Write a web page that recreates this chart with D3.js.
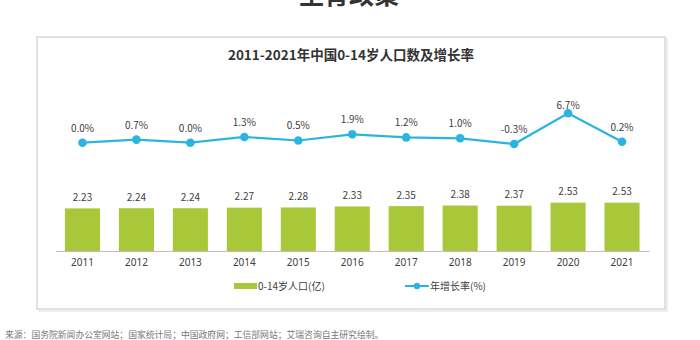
<!DOCTYPE html>
<html><head><meta charset="utf-8">
<script src="https://cdn.jsdelivr.net/npm/d3@7"></script>
<style>
html,body{margin:0;padding:0;background:#fff;}
svg{display:block;font-family:"Noto Sans CJK SC","Noto Sans",sans-serif;}
</style></head>
<body>
<svg id="c" width="700" height="340"></svg>
<script>
const years = ["2011","2012","2013","2014","2015","2016","2017","2018","2019","2020","2021"];
const population = [2.23,2.24,2.24,2.27,2.28,2.33,2.35,2.38,2.37,2.53,2.53];
const growth = [0.0,0.7,0.0,1.3,0.5,1.9,1.2,1.0,-0.3,6.7,0.2];
const growthLabels = ["0.0%","0.7%","0.0%","1.3%","0.5%","1.9%","1.2%","1.0%","-0.3%","6.7%","0.2%"];
const popLabels = ["2.23","2.24","2.24","2.27","2.28","2.33","2.35","2.38","2.37","2.53","2.53"];
const title = "2011-2021年中国0-14岁人口数及增长率";
const pageTitle = "生育政策";
const legendNames = ["0-14岁人口(亿)","年增长率(%)"];
const source = "来源：国务院新闻办公室网站；国家统计局；中国政府网；工信部网站；艾瑞咨询自主研究绘制。";

const green = "#a8c83a", blue = "#2cb4e0";
const svg = d3.select("#c");

// page title (cut off at top)
svg.append("text").attr("x",349).attr("y",4).attr("text-anchor","middle")
  .attr("font-size",25).attr("font-weight","bold").attr("fill","#333").text(pageTitle);

// panel box
svg.append("rect").attr("x",39).attr("y",39).attr("width",628).attr("height",272)
  .attr("fill","none").attr("stroke","#eeeeee").attr("stroke-width",2);
svg.append("rect").attr("x",37).attr("y",37).attr("width",628).attr("height",272)
  .attr("fill","#fff").attr("stroke","#d8d8d8").attr("stroke-width",1.5);

svg.append("text").attr("x",351).attr("y",60).attr("text-anchor","middle")
  .attr("font-size",13.5).attr("font-weight","bold").attr("fill","#333").text(title);

const x = d3.scaleBand().domain(years).range([55.5,649]).paddingInner(0.35).paddingOuter(0.175);
const yBar = d3.scaleLinear().domain([0,3]).range([251,251-57.3]);
const yLine = d3.scaleLinear().domain([0,6.7]).range([142.7,113.2]);

// bars
svg.append("g").selectAll("rect").data(years).join("rect")
  .attr("x",d=>x(d)).attr("width",x.bandwidth())
  .attr("y",(d,i)=>yBar(population[i])).attr("height",(d,i)=>yBar(0)-yBar(population[i]))
  .attr("fill",green);
svg.append("g").selectAll("text").data(years).join("text")
  .attr("x",d=>x(d)+x.bandwidth()/2).attr("y",(d,i)=>yBar(population[i])-7.5)
  .attr("text-anchor","middle").attr("font-size",10).attr("fill","#404040")
  .text((d,i)=>popLabels[i]);

// x axis
const ax = svg.append("g").attr("transform","translate(0,251)")
  .call(d3.axisBottom(x).tickSize(0).tickPadding(8));
ax.select(".domain").attr("stroke","#bfbfbf").attr("stroke-width",1);
ax.selectAll("text").attr("font-size",10).attr("fill","#404040")
  .attr("font-family","'Noto Sans',sans-serif");

// line
const cx = d=>x(d)+x.bandwidth()/2;
const line = d3.line().x((d,i)=>cx(years[i])).y(d=>yLine(d));
svg.append("path").datum(growth).attr("d",line).attr("fill","none")
  .attr("stroke",blue).attr("stroke-width",2.2);
svg.append("g").selectAll("circle").data(growth).join("circle")
  .attr("cx",(d,i)=>cx(years[i])).attr("cy",d=>yLine(d)).attr("r",4.3).attr("fill",blue);
svg.append("g").selectAll("text").data(growth).join("text")
  .attr("x",(d,i)=>cx(years[i])).attr("y",d=>Math.max(yLine(d)-11,109))
  .attr("text-anchor","middle").attr("font-size",10).attr("fill","#404040")
  .text((d,i)=>growthLabels[i]);

// legend
const lg = svg.append("g").attr("font-size",10).attr("fill","#404040");
lg.append("rect").attr("x",234).attr("y",283).attr("width",23).attr("height",6).attr("fill",green);
lg.append("text").attr("x",258).attr("y",289.5).attr("fill","#404040").text(legendNames[0]);
lg.append("line").attr("x1",405).attr("x2",429).attr("y1",286).attr("y2",286)
  .attr("stroke",blue).attr("stroke-width",2);
lg.append("circle").attr("cx",417).attr("cy",286).attr("r",3.2).attr("fill",blue);
lg.append("text").attr("x",430).attr("y",289.5).attr("fill","#404040").text(legendNames[1]);

// source
svg.append("text").attr("x",5).attr("y",338).attr("font-size",8.8).attr("fill","#777").text(source);
</script>
</body></html>
